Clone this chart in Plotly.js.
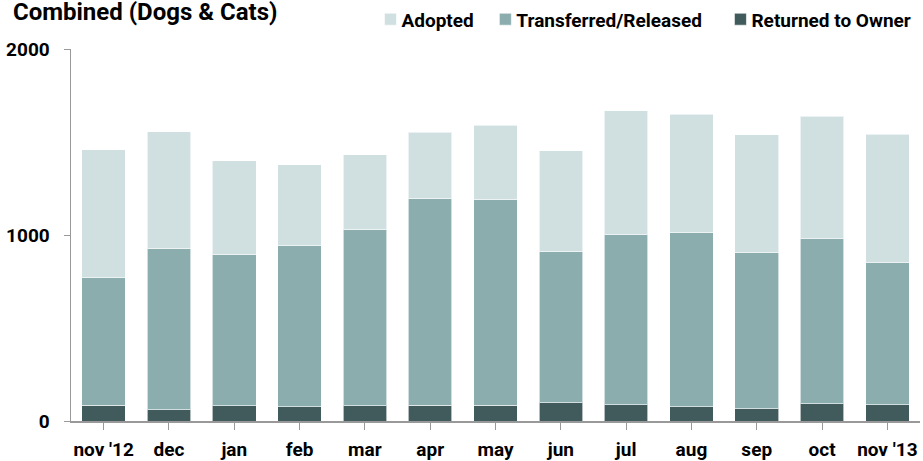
<!DOCTYPE html>
<html>
<head>
<meta charset="utf-8">
<script src="https://cdn.plot.ly/plotly-3.0.1.min.js"></script>
<style>
html,body{margin:0;padding:0;background:#fff;}
#chart{width:923px;height:461px;}
</style>
</head>
<body>
<div id="chart"></div>
<script>
const months = ["nov '12","dec","jan","feb","mar","apr","may","jun","jul","aug","sep","oct","nov '13"];
const returnedToOwner = [86, 61, 82, 77, 82, 86, 84, 97, 88, 77, 65, 93, 88];
const transferredReleased = [686, 867, 814, 867, 948, 1111, 1108, 817, 914, 937, 840, 887, 764];
const adopted = [687, 628, 504, 435, 401, 356, 397, 538, 667, 634, 633, 659, 690];
const yTicks = [0, 1000, 2000];

const FONT = 'Roboto, "Liberation Sans", sans-serif';
const lineStyle = {color: 'rgba(255,255,255,0.6)', width: 1};
const legendFont = {family: FONT, size: 19, color: '#000', weight: 'bold'};
function legendAt(x) {
  return {orientation: 'h', x: x, xanchor: 'left', xref: 'container',
          y: 0.958, yanchor: 'middle', yref: 'container',
          font: legendFont, itemwidth: 30, bgcolor: 'rgba(0,0,0,0)'};
}

const data = [
  {type:'bar', name:'Returned to Owner', x: months, y: returnedToOwner, legend: 'legend3', marker:{color:'#415a5b', line: lineStyle}},
  {type:'bar', name:'Transferred/Released', x: months, y: transferredReleased, legend: 'legend2', marker:{color:'#8cadae', line: lineStyle}},
  {type:'bar', name:'Adopted', x: months, y: adopted, legend: 'legend', marker:{color:'#d0dfe0', line: lineStyle}}
];

const layout = {
  width: 923, height: 461,
  margin: {l: 71, r: 3, t: 49, b: 40},
  paper_bgcolor: '#fff', plot_bgcolor: '#fff',
  font: {family: FONT, size: 19, color: '#000', weight: 'bold'},
  barmode: 'stack',
  bargap: 0.333,
  showlegend: true,
  title: {text: 'Combined (Dogs & Cats)', font: {family: FONT, size: 24, color: '#000', weight: 'bold'},
          x: 0.014, xanchor: 'left', xref: 'container', y: 0.993, yanchor: 'top', yref: 'container'},
  legend: legendAt(0.3916),
  legend2: legendAt(0.5161),
  legend3: legendAt(0.7708),
  xaxis: {
    type: 'category', range: [-0.5, 12.5],
    showline: true, linecolor: '#999', linewidth: 1.5,
    ticks: 'outside', ticklen: 7, tickcolor: '#999', tickwidth: 1,
    showgrid: false, zeroline: false, ticklabelstandoff: 4,
    tickfont: {family: FONT, size: 19, color: '#000', weight: 'bold'}
  },
  yaxis: {
    range: [0, 2000], tickvals: yTicks, ticktext: yTicks.map(String),
    showline: true, linecolor: '#999', linewidth: 1.5,
    ticks: 'outside', ticklen: 6, tickcolor: '#999', tickwidth: 1,
    showgrid: false, zeroline: false, ticklabelstandoff: 10,
    tickfont: {family: FONT, size: 19, color: '#000', weight: 'bold'}
  }
};

Plotly.newPlot('chart', data, layout, {displayModeBar: false, staticPlot: true}).then(gd => {
  gd.querySelectorAll('.legendsymbols').forEach(g => {
    const t = g.getAttribute('transform') || '';
    g.setAttribute('transform', 'translate(9,0) ' + t);
  });
});
</script>
</body>
</html>
